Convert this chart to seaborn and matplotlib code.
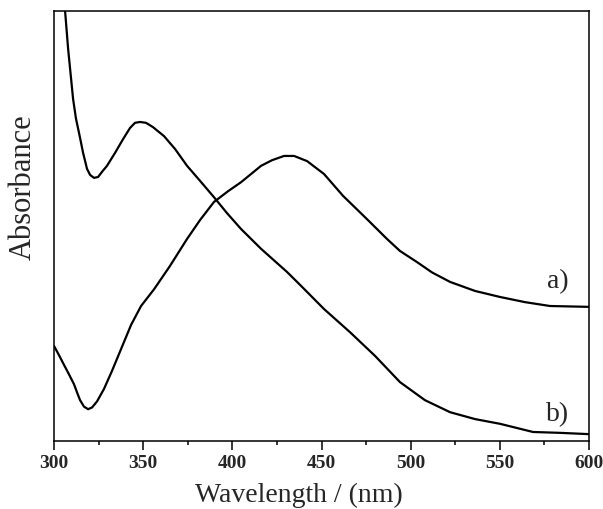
import numpy as np
import matplotlib
matplotlib.use("Agg")
import matplotlib.pyplot as plt
import seaborn as sns
import pandas as pd
from matplotlib.ticker import MultipleLocator

# curve a) : band near 430 nm
wl_a = [300.0, 303.0, 305.6, 308.4, 311.2, 313.0, 314.6, 316.8, 319.1, 321.3,
        324.1, 328.0, 332.5, 337.6, 343.2, 348.8, 356.1, 365.0, 374.6, 381.9,
        389.7, 397.6, 404.9, 416.1, 422.2, 429.0, 434.6, 441.9, 451.4, 462.1,
        475.5, 486.7, 494.0, 503.6, 512.0, 522.1, 536.1, 550.1, 564.1, 578.1,
        600.0]
abs_a = [0.221, 0.198, 0.177, 0.155, 0.132, 0.112, 0.095, 0.080, 0.074, 0.078,
         0.092, 0.121, 0.163, 0.214, 0.270, 0.314, 0.353, 0.407, 0.470, 0.514,
         0.556, 0.581, 0.602, 0.640, 0.653, 0.663, 0.663, 0.651, 0.621, 0.570,
         0.516, 0.470, 0.442, 0.416, 0.392, 0.370, 0.349, 0.335, 0.323, 0.314,
         0.312]

# curve b) : band near 350 nm
wl_b = [304.5, 306.2, 307.9, 310.7, 312.3, 314.6, 316.3, 318.5, 320.2, 322.4,
        324.7, 326.9, 329.7, 334.2, 338.7, 342.6, 345.4, 348.2, 351.6, 355.5,
        361.7, 367.9, 374.6, 381.9, 389.7, 397.0, 404.9, 416.1, 430.7, 438.0,
        451.4, 466.0, 480.0, 494.0, 508.0, 522.1, 536.1, 550.1, 568.6, 583.7,
        600.0]
abs_b = [1.098, 1.000, 0.912, 0.795, 0.750, 0.705, 0.670, 0.633, 0.619, 0.612,
         0.614, 0.626, 0.640, 0.670, 0.702, 0.728, 0.740, 0.742, 0.740, 0.730,
         0.709, 0.679, 0.640, 0.605, 0.567, 0.530, 0.493, 0.447, 0.393, 0.363,
         0.307, 0.253, 0.198, 0.137, 0.095, 0.067, 0.051, 0.040, 0.021, 0.019,
         0.016]

sns.set_theme(style="ticks")
plt.rcParams['font.family'] = ['Liberation Serif', 'DejaVu Serif']

df_a = pd.DataFrame({"wl": wl_a, "A": abs_a})
df_b = pd.DataFrame({"wl": wl_b, "A": abs_b})

fig = plt.figure(figsize=(6.03, 5.10), dpi=100)
ax = fig.add_axes([0.0896, 0.1333, 0.8872, 0.8431])

sns.lineplot(data=df_a, x="wl", y="A", ax=ax, color="black", lw=1.6, sort=False)
sns.lineplot(data=df_b, x="wl", y="A", ax=ax, color="black", lw=1.6, sort=False)

ax.set_xlim(300, 600)
ax.set_ylim(0, 1)

ax.text(582.6, 0.374, "a)", fontsize=20, ha="center", va="center")
ax.text(582.1, 0.063, "b)", fontsize=20, ha="center", va="center")

ax.xaxis.set_major_locator(MultipleLocator(50))
ax.xaxis.set_minor_locator(MultipleLocator(25))
ax.tick_params(axis="x", which="major", direction="out", length=6.5, width=1.1,
               pad=3, labelsize=14, color="black")
ax.tick_params(axis="x", which="minor", direction="out", length=3, width=1.1,
               color="black")
ax.tick_params(axis="y", left=False, labelleft=False)
for lab in ax.get_xticklabels():
    lab.set_fontweight("bold")

for sp in ax.spines.values():
    sp.set_visible(True)
    sp.set_linewidth(1.1)
    sp.set_color("black")

ax.set_xlabel("Wavelength / (nm)", fontsize=20)
ax.set_ylabel("Absorbance", fontsize=22)
ax.xaxis.set_label_coords(0.458, -0.095)
ax.yaxis.set_label_coords(-0.03, 0.593)

fig.savefig("out.png", dpi=100)
